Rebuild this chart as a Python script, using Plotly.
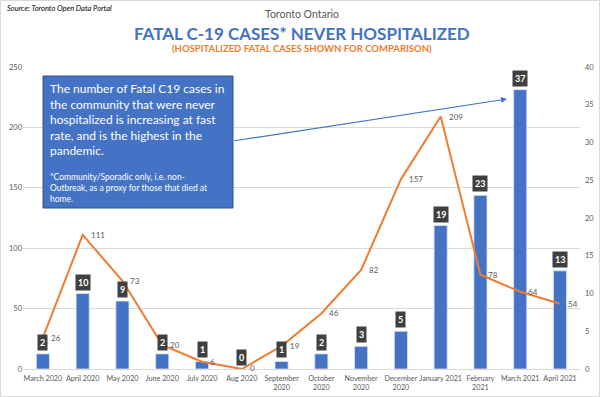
import plotly.graph_objects as go

months = ["March 2020", "April 2020", "May 2020", "June 2020", "July 2020", "Aug 2020",
          "September<br>2020", "October<br>2020", "November<br>2020", "December<br>2020",
          "January 2021", "February<br>2021", "March 2021", "April 2021"]
never_hospitalized = [2, 10, 9, 2, 1, 0, 1, 2, 3, 5, 19, 23, 37, 13]
hospitalized = [26, 111, 73, 20, 6, 0, 19, 46, 82, 157, 209, 78, 64, 54]
left_ticks = [0, 50, 100, 150, 200, 250]
right_ticks = [0, 5, 10, 15, 20, 25, 30, 35, 40]

W, H = 600, 397
ML, MR, MT, MB = 23, 20, 67, 28
PW, PH = W - ML - MR, H - MT - MB
FONT = "Lato"
BLUE = "#4472C4"
ORANGE = "#ED7D31"
GRAY = "#595959"


def px(x):
    return (x - ML) / PW


def py(y):
    return 1 - (y - MT) / PH


fig = go.Figure()

fig.add_trace(go.Bar(
    x=months, y=never_hospitalized, yaxis="y",
    marker=dict(color=BLUE, line=dict(color="#dbe4f4", width=0.8)),
    hoverinfo="skip", showlegend=False,
))

fig.add_trace(go.Scatter(
    x=months, y=hospitalized, yaxis="y2", mode="lines",
    line=dict(color=ORANGE, width=2),
    hoverinfo="skip", showlegend=False,
))

annotations = []
# bar value labels
for m, v in zip(months, never_hospitalized):
    annotations.append(dict(
        x=m, y=v, xref="x", yref="y", yanchor="bottom", yshift=3,
        text=f"<b>{v}</b>", showarrow=False,
        font=dict(family=FONT, size=9, color="white"),
        bgcolor="#404040", borderpad=2,
    ))
# line value labels
for m, v in zip(months, hospitalized):
    annotations.append(dict(
        x=m, y=v, xref="x", yref="y2", xanchor="left", yanchor="middle", xshift=6,
        yshift=1 if v == 0 else 0,
        text=str(v), showarrow=False,
        font=dict(family=FONT, size=8, color=GRAY),
    ))

# titles
annotations += [
    dict(x=px(5), y=py(8), xref="paper", yref="paper", xanchor="left", yanchor="middle",
         text="<i>Source: Toronto Open Data Portal</i>", showarrow=False,
         font=dict(family=FONT, size=7.5, color="black")),
    dict(x=0.5, y=py(14), xref="paper", yref="paper", xanchor="center", yanchor="middle",
         text="Toronto Ontario", showarrow=False,
         font=dict(family=FONT, size=10.5, color=GRAY)),
    dict(x=0.5, y=py(33), xref="paper", yref="paper", xanchor="center", yanchor="middle",
         text="<b>FATAL C-19 CASES* NEVER HOSPITALIZED</b>", showarrow=False,
         font=dict(family=FONT, size=17, color=BLUE)),
    dict(x=0.5, y=py(49), xref="paper", yref="paper", xanchor="center", yanchor="middle",
         text="<b>(HOSPITALIZED FATAL CASES SHOWN FOR COMPARISON)</b>", showarrow=False,
         font=dict(family=FONT, size=9.5, color=ORANGE)),
]

# arrow from box to March 2021 bar
annotations.append(dict(
    x=px(507), y=py(99), xref="paper", yref="paper", text="", showarrow=True,
    ax=233 - 507, ay=141 - 99, arrowhead=2, arrowsize=1, arrowwidth=1.2,
    arrowcolor=BLUE, standoff=0,
))

# box text
annotations.append(dict(
    x=px(48), y=py(79), xref="paper", yref="paper", xanchor="left", yanchor="top",
    text=("The number of Fatal C19 cases in<br>the community that were never<br>"
          "hospitalized is increasing at fast<br>rate, and is the highest in the<br>pandemic."),
    align="left", showarrow=False,
    font=dict(family=FONT, size=12, color="white"),
))
annotations.append(dict(
    x=px(48), y=py(170), xref="paper", yref="paper", xanchor="left", yanchor="top",
    text=("*Community/Sporadic only, i.e. non-<br>Outbreak, as a proxy for those that died at<br>home."),
    align="left", showarrow=False,
    font=dict(family=FONT, size=8.5, color="white"),
))

shapes = [
    dict(type="rect", xref="paper", yref="paper", x0=px(43), x1=px(233), y0=py(208), y1=py(76),
         fillcolor=BLUE, line=dict(color="#2F528F", width=1), layer="above"),
    dict(type="rect", xref="paper", yref="paper", x0=px(0.5), x1=px(599.5), y0=py(396.5), y1=py(0.5),
         fillcolor="rgba(0,0,0,0)", line=dict(color="#d9d9d9", width=1), layer="below"),
]

fig.update_layout(
    width=W, height=H,
    margin=dict(l=ML, r=MR, t=MT, b=MB, pad=0, autoexpand=False),
    paper_bgcolor="white", plot_bgcolor="white",
    font=dict(family=FONT, size=8, color=GRAY),
    bargap=0.67,
    xaxis=dict(tickangle=0, showgrid=False, showline=True, linecolor="#d9d9d9",
               tickfont=dict(size=7.2, color=GRAY), ticks="", automargin=False,
               ticklabelstandoff=2),
    yaxis=dict(side="right", range=[0, 40], tickvals=right_ticks, showgrid=False,
               zeroline=False, tickfont=dict(size=7.5, color=GRAY), ticklabelstandoff=4,
               automargin=False),
    yaxis2=dict(side="left", overlaying="y", range=[0, 250], tickvals=left_ticks,
                showgrid=True, gridcolor="#d9d9d9", gridwidth=1, zeroline=False,
                tickfont=dict(size=7.5, color=GRAY), automargin=False),
    annotations=annotations,
    shapes=shapes,
)

fig.write_html(
    "out.html",
    config={"displayModeBar": False},
    post_script="document.body.style.margin='0';document.body.style.overflow='hidden';",
)
